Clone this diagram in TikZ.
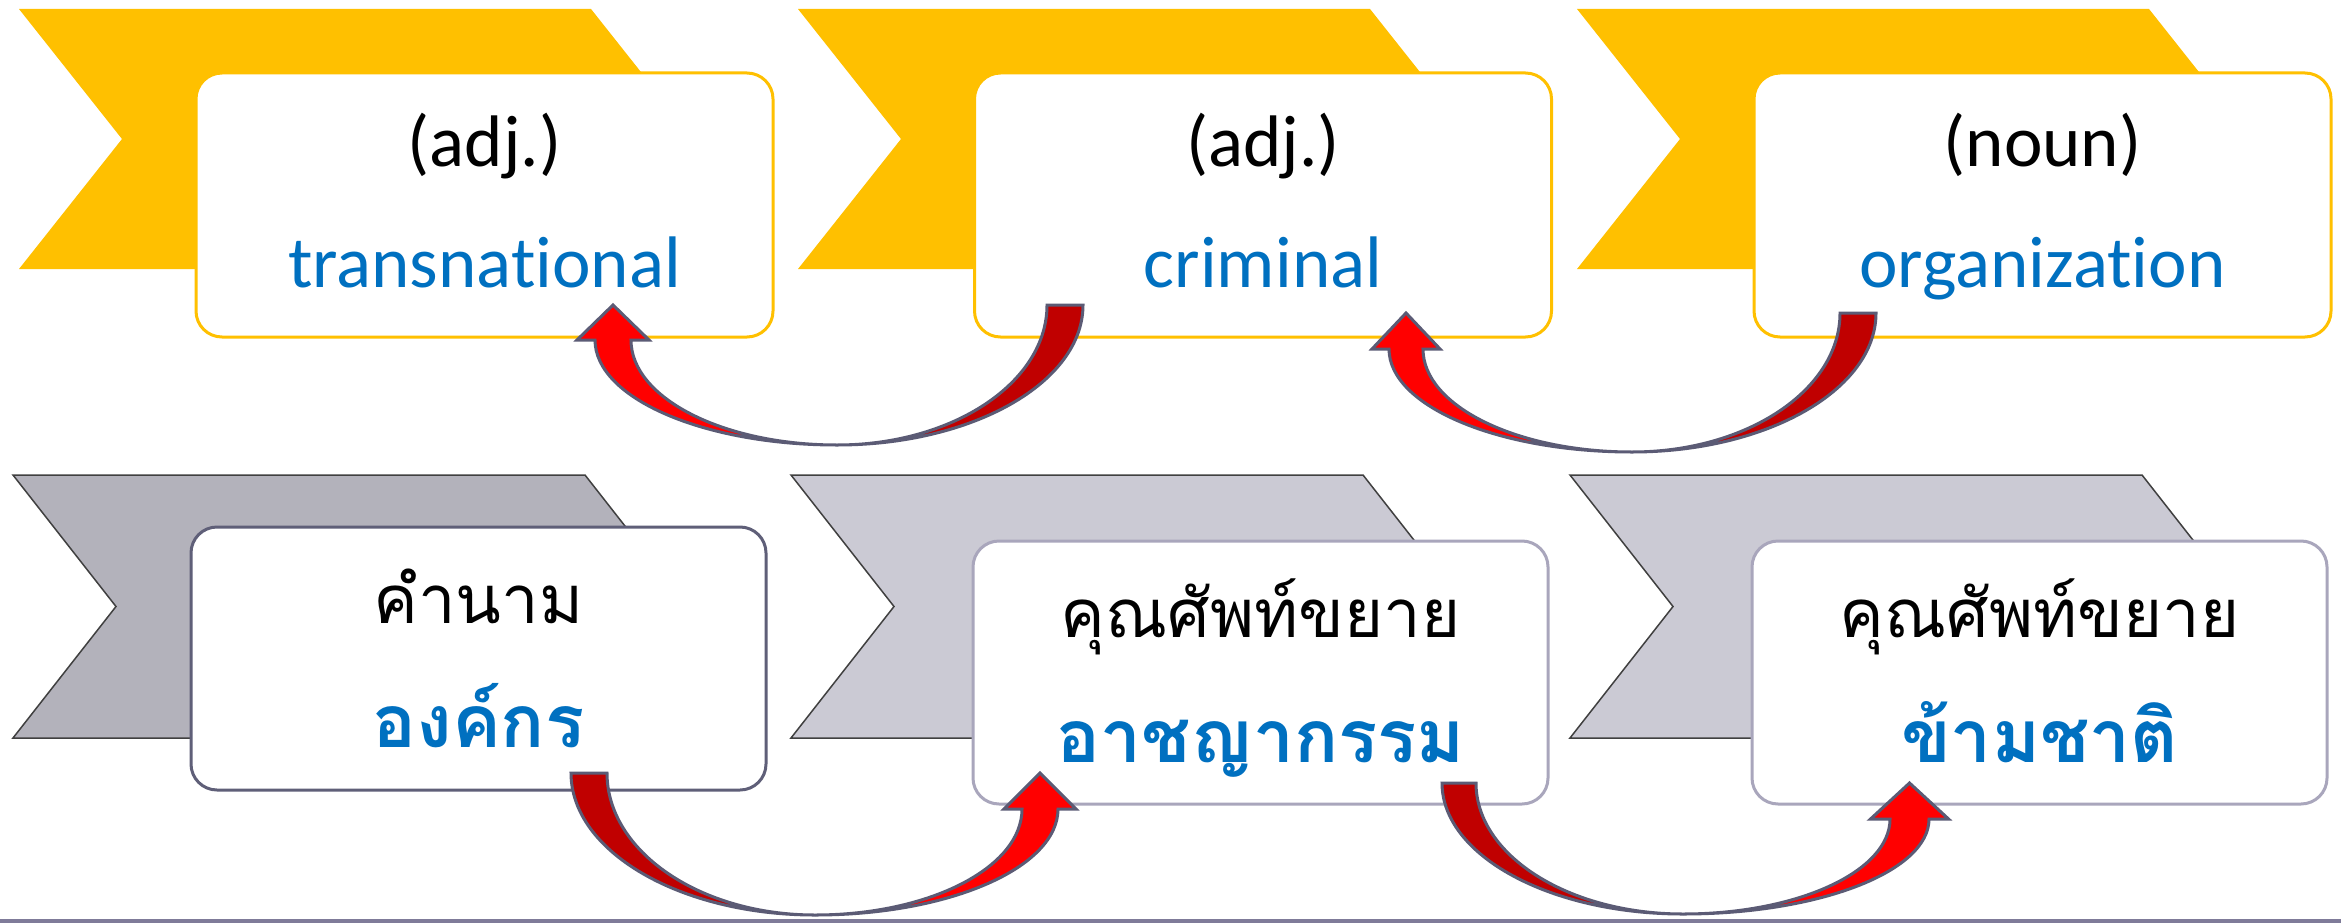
\documentclass[tikz,border=0pt]{standalone}
\usepackage{fontspec}
\setmainfont{Carlito}[Ligatures=NoCommon]
\newfontfamily\thaifont[Script=Thai]{Loma}
\definecolor{gold}{HTML}{FFC000}
\definecolor{wordblue}{HTML}{0070C0}
\definecolor{greyA}{HTML}{B3B2BB}
\definecolor{greyB}{HTML}{CBCAD4}
\definecolor{boxedgeA}{HTML}{5F5F78}
\definecolor{boxedgeB}{HTML}{A9A6BC}
\definecolor{arrowedge}{HTML}{5B5B75}
\definecolor{darkred}{HTML}{C00000}
\definecolor{brightred}{HTML}{FF0000}
\definecolor{rulecolor}{HTML}{7F7B99}
\newcommand\chevronat[4]{% x0, y0, height, fill style
  \path[#4] (#1,#2) -- ++(572,0) -- ++(103,#3/2) -- ++(-103,#3/2) -- ++(-572,0) -- ++(103,-#3/2) -- cycle;}
\newcommand\blockarc[8]{% tail outer x, tail inner x, tail y, head outer x, head inner x, head base y, bottom x, bottom y
  \filldraw[arrowpart, fill=darkred]
    ({#1},{#3}) -- ({#2},{#3})
    .. controls ({#2},{#3+0.5523*(#8-#3)}) and ({#7+0.5523*(#2-#7)},{#8}) .. ({#7},{#8})
    .. controls ({#7+0.5523*(#1-#7)},{#8}) and ({#1},{#3+0.5523*(#8-#3)}) .. cycle;
  \filldraw[arrowpart, fill=brightred]
    ({#4},{#6})
    .. controls ({#4},{#6+0.5523*(#8-#6)}) and ({#7+0.5523*(#4-#7)},{#8}) .. ({#7},{#8})
    .. controls ({#7+0.5523*(#5-#7)},{#8}) and ({#5},{#6+0.5523*(#8-#6)}) .. ({#5},{#6})
    -- ({#5+(#5-#4)/2},{#6}) -- ({(#4+#5)/2},{#3}) -- ({#4+(#4-#5)/2},{#6}) -- cycle;}
\begin{document}
\begin{tikzpicture}[x=1pt,y=-1pt,
  goldchev/.style={fill=gold},
  greychevA/.style={fill=greyA, draw=black!75, line width=1.5pt, line join=miter},
  greychevB/.style={fill=greyB, draw=black!75, line width=1.5pt, line join=miter},
  topbox/.style={draw=gold, line width=3pt, fill=white, rounded corners=26pt, minimum width=577pt, minimum height=264pt, inner sep=0pt},
  botboxA/.style={draw=boxedgeA, line width=3pt, fill=white, rounded corners=26pt, minimum width=575pt, minimum height=263pt, inner sep=0pt},
  botboxB/.style={draw=boxedgeB, line width=3pt, fill=white, rounded corners=26pt, minimum width=575pt, minimum height=263pt, inner sep=0pt},
  kind/.style={font=\fontsize{73}{80}\selectfont, text=black, anchor=base, inner sep=0pt},
  word/.style={font=\fontsize{73}{80}\selectfont, text=wordblue, anchor=base, inner sep=0pt},
  thkind/.style={font=\thaifont\fontsize{67}{74}\selectfont, text=black, anchor=base, inner sep=0pt},
  thword/.style={font=\thaifont\bfseries\fontsize{73}{80}\selectfont, text=wordblue, anchor=base, inner sep=0pt},
  arrowpart/.style={draw=arrowedge, line width=3pt, line join=miter}]
\useasboundingbox (0,0) rectangle (2341,923);
\fill[white] (0,0) rectangle (2341,923);
% top row
\chevronat{19}{9}{260}{goldchev}
\chevronat{798}{9}{260}{goldchev}
\chevronat{1577}{9}{260}{goldchev}
\node[topbox] (tb1) at (484.5,205) {};
\node[topbox] (tb2) at (1263,205) {};
\node[topbox] (tb3) at (2042.5,205) {};
\node[kind] (tk1) at (484.5,166) {(adj.)};
\node[word] (tw1) at (484.5,287) {transnational};
\node[kind] (tk2) at (1263,166) {(adj.)};
\node[word] (tw2) at (1263,287) {criminal};
\node[kind] (tk3) at (2042.5,166) {(noun)};
\node[word] (tw3) at (2042.5,287) {organization};
% bottom row
\chevronat{13}{475}{263}{greychevA}
\chevronat{791}{475}{263}{greychevB}
\chevronat{1570}{475}{263}{greychevB}
\node[botboxA] (bb1) at (478.5,658.5) {};
\node[botboxB] (bb2) at (1260.5,672.5) {};
\node[botboxB] (bb3) at (2039.5,672.5) {};
\node[thkind] (bk1) at (478.5,623) {คำนาม};
\node[thword] (bw1) at (478.5,747) {องค์กร};
\node[thkind] (bk2) at (1260.5,637) {คุณศัพท์ขยาย};
\node[thword] (bw2) at (1260.5,762) {อาชญากรรม};
\node[thkind] (bk3) at (2039.5,637) {คุณศัพท์ขยาย};
\node[thword] (bw3) at (2039.5,762) {ข้ามชาติ};
% bottom rule
\draw[draw=rulecolor, line width=5pt] (0,921) -- (2341,921);
% curved block arrows
\blockarc{1083}{1047}{305}{595}{631}{340}{837}{445}
\blockarc{1876}{1840}{313}{1389}{1423}{349}{1632}{452}
\blockarc{571}{607}{773}{1058}{1022}{809}{815}{915}
\blockarc{1442}{1476}{783}{1929}{1890}{819}{1683}{914}
\end{tikzpicture}
\end{document}
